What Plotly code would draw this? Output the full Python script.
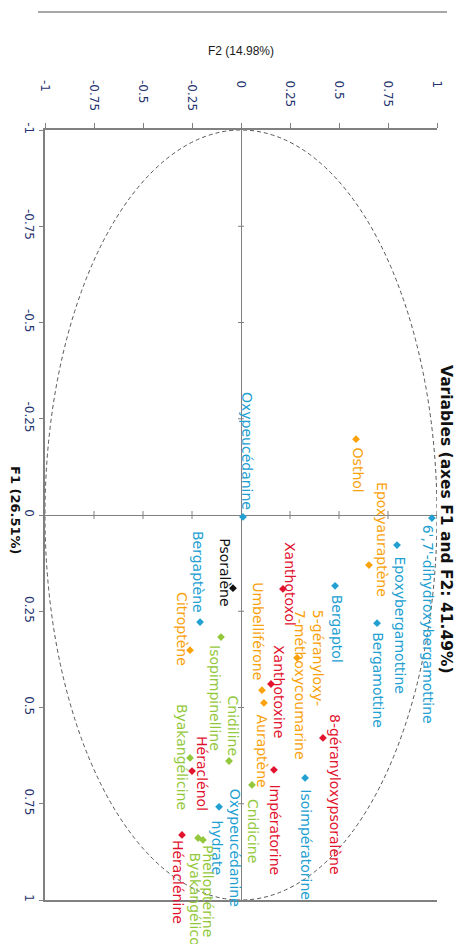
import plotly.graph_objects as go

# ---------------- data ----------------
names = ["Oxypeucédanine", "6',7'-dihydroxybergamottine", "Epoxybergamottine", "Bergamottine", "Bergaptol",
         "Osthol", "Epoxyauraptène", "5-géranyloxy-\n7-méthoxycoumarine", "8-géranyloxypsoralène", "Isoimpératorine",
         "Impératorine", "Xanthotoxine", "Xanthotoxol", "Umbelliférone", "Auraptène",
         "Psoralène", "Bergaptène", "Citroptène", "Isopimpinelline", "Cnidiline",
         "Byakangélicine", "Héraclénol", "Oxypeucédanine\nhydrate", "Cnidicine", "Héraclénine",
         "Phelloptérine", "Byakangélicol"]
f1 = [0.005, 0.008, 0.078, 0.281, 0.184,
      -0.197, 0.130, 0.371, 0.579, 0.683,
      0.662, 0.439, 0.192, 0.455, 0.488,
      0.190, 0.278, 0.351, 0.317, 0.639,
      0.631, 0.665, 0.758, 0.701, 0.831,
      0.844, 0.839]
f2 = [0.010, 0.974, 0.796, 0.694, 0.480,
      0.587, 0.653, 0.286, 0.418, 0.327,
      0.168, 0.153, 0.214, 0.107, 0.117,
      -0.041, -0.209, -0.260, -0.102, -0.061,
      -0.260, -0.250, -0.112, 0.056, -0.301,
      -0.194, -0.219]
groups = ["blue", "blue", "blue", "blue", "blue",
          "orange", "orange", "orange", "red", "blue",
          "red", "red", "red", "orange", "orange",
          "black", "blue", "orange", "green", "green",
          "green", "red", "blue", "green", "red",
          "green", "green"]
tick_vals = [-1, -0.75, -0.5, -0.25, 0, 0.25, 0.5, 0.75, 1]
tick_text = ["-1", "-0.75", "-0.5", "-0.25", "0", "0.25", "0.5", "0.75", "1"]

# ---------------- style ----------------
palette = {"blue": "#22a0d2", "orange": "#f9a20c", "red": "#e2132f",
           "green": "#93c83c", "black": "#111111"}
# label placement: (x shift px, y shift px downward, anchor along reading direction)
label_pos = [(4, -5, "bottom"), (-3, 5, "top"), (3, 9, "top"), (1, 7, "top"), (2, 7, "top"),
             (2, 6, "top"), (13, -25, "middle"), (12, 27, "middle"), (12, 57, "middle"), (0, 9, "top"),
             (1, 13, "top"), (8, 8, "middle"), (7, -5, "middle"), (-4, -8, "bottom"), (-2, 10, "top"),
             (-8, -16, "middle"), (-2, -7, "bottom"), (-8, -21, "middle"), (-6, 6, "top"), (4, -3, "bottom"),
             (-8, -1, "middle"), (10, 2, "middle"), (7, 41, "middle"), (1, 12, "top"), (-4, 3, "top"),
             (5, 3, "top"), (-3, 12, "top")]

# the page adds an 8px body margin, so the figure is drawn 8px smaller
OFF = 8
W, H = 462 - OFF, 944 - OFF
L, R, T, B = 45 - OFF, 25, 130 - OFF, 44
PW, PH = W - L - R, H - T - B
axis_grey = "#808080"
tick_color = "#24336f"

# pad top tick labels so they all start at the same distance from the axis
cw = {"-": 0.361, ".": 0.318}
def text_w(s):
    return sum(cw.get(c, 0.636) for c in s)
wmax = max(text_w(s) for s in tick_text)
top_text = [s + "\u00a0" * int(round((wmax - text_w(s)) / 0.318)) for s in tick_text]

fig = go.Figure()

fig.add_trace(go.Scatter(
    x=f2, y=f1, mode="markers",
    marker=dict(symbol="diamond", size=6, color=[palette[g] for g in groups]),
    hoverinfo="text", text=[n.replace("\n", " ") for n in names], showlegend=False,
))

annotations = []
for n, xv, yv, g, (dx, dy, anc) in zip(names, f2, f1, groups, label_pos):
    annotations.append(dict(
        x=xv, y=yv, xref="x", yref="y", text=n.replace("\n", "<br>"),
        showarrow=False, textangle=90, xanchor="center", yanchor=anc,
        xshift=dx, yshift=-dy, align="center" if "hydrate" in n else "left",
        font=dict(family="DejaVu Sans", size=14, color=palette[g]),
    ))

def px_x(px):
    return (px - 45) / PW
def px_y(py):
    return (900 - py) / PH

# title and F1 axis title (rotated)
annotations.append(dict(
    x=px_x(446), y=px_y(519), xref="paper", yref="paper", text="<b>Variables (axes F1 and F2: 41.49%)</b>",
    showarrow=False, textangle=90, xanchor="center", yanchor="middle",
    font=dict(family="DejaVu Sans", size=15.5, color="#111111"),
))
annotations.append(dict(
    x=px_x(16), y=px_y(510), xref="paper", yref="paper", text="<b>F1 (26.51%)</b>",
    showarrow=False, textangle=90, xanchor="center", yanchor="middle", borderpad=0,
    font=dict(family="DejaVu Sans", size=13, color="#111111"),
))

shapes = []
# correlation circle
shapes.append(dict(type="circle", xref="x", yref="y", x0=-1, y0=-1, x1=1, y1=1,
                   line=dict(color="#555555", width=1, dash="4px,3px")))
# small tick marks along the zero lines
for v in tick_vals:
    if v in (-1, 0, 1):
        continue
    shapes.append(dict(type="line", xref="x", yref="y", xsizemode="pixel", xanchor=0,
                       x0=-3, x1=3, y0=v, y1=v, line=dict(color=axis_grey, width=1)))
    shapes.append(dict(type="line", xref="x", yref="y", ysizemode="pixel", yanchor=0,
                       y0=-4, y1=4, x0=v, x1=v, line=dict(color=axis_grey, width=1)))
# thin rule at the very top of the picture
shapes.append(dict(type="line", xref="paper", yref="paper",
                   x0=px_x(38), x1=px_x(447), y0=px_y(12), y1=px_y(12),
                   line=dict(color="#8a8a8a", width=1.5)))

fig.update_layout(
    width=W, height=H,
    margin=dict(l=L, r=R, t=T, b=B, pad=0),
    paper_bgcolor="white", plot_bgcolor="white",
    annotations=annotations, shapes=shapes,
    xaxis=dict(
        range=[-1, 1], side="top", tickvals=tick_vals, ticktext=top_text, tickangle=90,
        showgrid=False, zeroline=True, zerolinecolor=axis_grey, zerolinewidth=1.2,
        showline=True, linecolor=axis_grey, linewidth=1.5, mirror=True,
        ticks="outside", ticklen=5, tickcolor=axis_grey, ticklabelstandoff=8,
        tickfont=dict(family="DejaVu Sans", size=12, color=tick_color),
        title=dict(text="F2 (14.98%)", standoff=22,
                   font=dict(family="Liberation Sans", size=12, color="#1a1a1a")),
        automargin=True, fixedrange=True,
    ),
    yaxis=dict(
        range=[1, -1], tickvals=tick_vals, ticktext=tick_text, tickangle=90,
        showgrid=False, zeroline=True, zerolinecolor=axis_grey, zerolinewidth=1.2,
        showline=True, linecolor=axis_grey, linewidth=1.5, mirror=False,
        ticks="outside", ticklen=4, tickcolor=axis_grey,
        tickfont=dict(family="DejaVu Sans", size=12, color=tick_color),
        automargin=False, fixedrange=True,
    ),
)

fig.write_html("out.html")
